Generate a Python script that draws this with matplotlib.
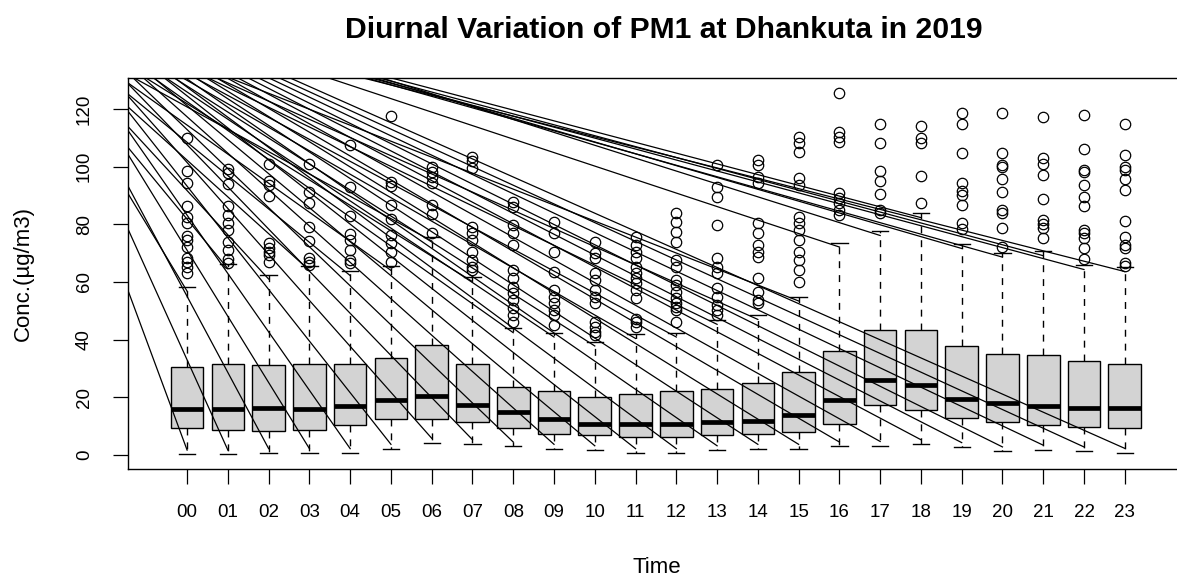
import matplotlib
matplotlib.use('Agg')
import matplotlib.pyplot as plt
import numpy as np

plt.rcParams['font.family'] = ['Liberation Sans', 'DejaVu Sans']

hours = ['00', '01', '02', '03', '04', '05', '06', '07', '08', '09', '10', '11',
         '12', '13', '14', '15', '16', '17', '18', '19', '20', '21', '22', '23']

# box statistics (ug/m3)
q1 = [9.4, 8.8, 8.2, 8.8, 10.3, 12.4, 12.4, 11.3, 9.4, 7.3, 6.8, 6.2,
      6.2, 6.8, 7.3, 7.9, 10.9, 17.4, 15.5, 12.8, 11.4, 10.4, 9.8, 9.3]
med = [16.0, 16.0, 16.4, 16.0, 16.9, 19.0, 20.4, 17.4, 14.9, 12.5, 10.9, 10.9,
       10.9, 11.3, 11.9, 13.9, 19.0, 26.1, 24.2, 19.5, 18.1, 17.0, 16.4, 16.4]
q3 = [30.6, 31.7, 31.1, 31.7, 31.7, 33.6, 38.2, 31.7, 23.5, 22.1, 20.0, 21.0,
      22.1, 23.0, 25.1, 28.7, 36.2, 43.2, 43.2, 37.7, 35.1, 34.7, 32.6, 31.7]
whisk_lo = [0.2, 0.2, 0.7, 0.7, 0.7, 2.2, 4.3, 3.8, 3.0, 2.2, 1.7, 0.7,
            0.7, 1.7, 2.2, 2.2, 3.0, 3.2, 3.8, 2.8, 1.3, 1.9, 1.3, 0.8]
whisk_hi = [58.3, 66.1, 62.5, 65.5, 63.7, 65.5, 75.7, 61.6, 43.9, 42.4, 39.3, 41.9,
            42.4, 46.8, 48.5, 54.9, 73.6, 77.6, 83.8, 73.1, 70.1, 70.6, 65.8, 65.1]

outliers = [
    [110.0, 98.4, 94.4, 86.2, 82.6, 80.3, 76.0, 74.5, 72.2, 68.2, 67.0, 65.3, 63.0],
    [99.1, 97.6, 93.9, 86.2, 83.1, 80.3, 78.0, 73.9, 71.1, 67.8, 66.7],
    [100.9, 95.0, 93.6, 89.8, 73.6, 71.6, 70.5, 69.3, 67.0],
    [100.9, 91.3, 87.2, 79.1, 74.2, 68.2, 67.0, 65.9],
    [107.6, 92.8, 82.8, 76.6, 74.5, 71.1, 67.6, 66.4],
    [117.6, 94.7, 93.2, 86.7, 81.7, 76.3, 73.6, 70.5, 67.0],
    [99.9, 98.2, 96.5, 94.2, 86.7, 83.5, 76.8],
    [103.2, 102.0, 99.4, 79.1, 76.8, 74.5, 70.5, 67.6, 65.3, 64.1],
    [87.8, 86.1, 79.7, 76.8, 72.8, 64.1, 61.2, 58.3, 56.0, 53.7, 50.8, 48.5, 46.2],
    [80.9, 76.8, 70.5, 63.5, 57.2, 54.9, 52.6, 50.3, 48.5, 45.1],
    [73.9, 69.9, 68.2, 63.0, 60.7, 57.2, 54.9, 52.6, 46.2, 44.5, 42.7, 41.6],
    [75.7, 72.8, 70.5, 68.2, 65.3, 63.0, 61.2, 59.5, 57.2, 54.3, 47.0, 46.2, 44.5],
    [83.8, 80.9, 77.4, 73.9, 67.6, 65.3, 60.7, 58.9, 56.6, 54.3, 52.6, 51.4, 50.3, 46.2],
    [100.5, 93.0, 89.5, 79.7, 68.2, 65.3, 63.0, 57.8, 54.9, 52.0, 50.3, 48.5],
    [102.3, 100.5, 96.5, 94.2, 80.3, 76.8, 72.8, 70.5, 68.7, 61.2, 56.6, 53.7, 52.7],
    [110.3, 108.0, 105.1, 95.9, 93.6, 82.6, 80.3, 78.0, 74.5, 70.5, 67.6, 64.1, 60.1],
    [125.4, 112.1, 110.3, 108.6, 90.7, 89.0, 87.2, 84.9, 83.2],
    [114.6, 108.0, 98.4, 95.0, 90.4, 84.9, 83.8],
    [114.1, 109.8, 108.3, 96.7, 87.2],
    [118.4, 114.7, 104.6, 94.2, 91.6, 90.1, 86.7, 80.3, 78.2],
    [118.6, 104.6, 100.5, 99.9, 95.6, 91.3, 84.9, 83.8, 78.6, 72.2],
    [117.3, 102.8, 100.9, 96.9, 88.8, 81.5, 80.1, 78.6, 75.1],
    [117.9, 106.0, 98.8, 98.2, 93.6, 89.5, 86.3, 78.0, 76.8, 75.1, 71.6, 67.8],
    [114.7, 104.0, 99.9, 98.8, 95.6, 91.9, 81.2, 75.7, 72.8, 71.6, 66.4, 65.5],
]

# stray straight lines running from the top of the panel down to each whisker end:
# x position (hour units) where each one leaves the top edge
lower_line_top_x = [-3.4, -3.15, -2.9, -2.64, -2.39, -2.14, -1.89, -1.64, -1.38, -1.13, -0.88, -0.63,
                    -0.38, -0.12, 0.13, 0.38, 0.63, 0.88, 1.14, 1.39, 1.64, 1.89, 2.14, 2.4]
upper_line_top_x = [-3.2, -2.9, -2.6, -2.3, -2.0, -1.7, -1.4, -1.1, -0.9, -0.6, -0.4, -0.2,
                    0.1, 0.4, 0.6, 0.9, 3.3, 4.6, 4.8, 4.4, 4.2, 4.5, 4.3, 4.1]
line_top_y = 131.5

W, H = 1177, 579
fig = plt.figure(figsize=(W / 100, H / 100), dpi=100)
ax = fig.add_axes([128 / W, 1 - 469 / H, (1190 - 128) / W, (469 - 78) / H])

pos = np.arange(len(hours))
stats = [dict(med=med[i], q1=q1[i], q3=q3[i], whislo=whisk_lo[i], whishi=whisk_hi[i],
              fliers=outliers[i]) for i in range(len(hours))]
ax.bxp(stats, positions=pos, widths=0.8, capwidths=0.4, patch_artist=True,
       boxprops=dict(facecolor='#d3d3d3', edgecolor='black', linewidth=1.0),
       medianprops=dict(color='black', linewidth=3.4, solid_capstyle='butt'),
       whiskerprops=dict(color='black', linestyle=(0, (5, 5)), linewidth=1.0),
       capprops=dict(color='black', linewidth=1.0),
       flierprops=dict(marker='o', markerfacecolor='none', markeredgecolor='black',
                       markersize=7.5, markeredgewidth=0.9))

for i in range(len(hours)):
    ax.plot([lower_line_top_x[i], pos[i]], [line_top_y, whisk_lo[i] + 1.5], color='black', lw=0.9)
    ax.plot([upper_line_top_x[i], pos[i]], [line_top_y, whisk_hi[i] - 1.5], color='black', lw=0.9)

ax.set_xlim(-1.45, 24.6)
ax.set_ylim(-4.85, 130.7)
ax.set_xticks(pos)
ax.set_xticklabels(hours)
ax.set_yticks([0, 20, 40, 60, 80, 100, 120])
for lab in ax.get_yticklabels():
    lab.set_rotation(90)
    lab.set_va('center')
ax.tick_params(axis='both', length=10.8, width=0.9, labelsize=13.5, color='black')
ax.tick_params(axis='x', pad=14.5)
ax.tick_params(axis='y', pad=14.5)
for s in ax.spines.values():
    s.set_linewidth(1.0)

ax.set_xlabel('Time', fontsize=16)
ax.xaxis.set_label_coords((657 - 128) / (1190 - 128), -0.225)
ax.set_ylabel('Conc.(µg/m3)', fontsize=16)
ax.yaxis.set_label_coords(-0.0885, 0.5)

fig.text(664 / W, 1 - 30 / H, 'Diurnal Variation of PM1 at Dhankuta in 2019',
         ha='center', va='center', fontsize=21.7, fontweight='bold')

fig.savefig('out.png', dpi=100)
